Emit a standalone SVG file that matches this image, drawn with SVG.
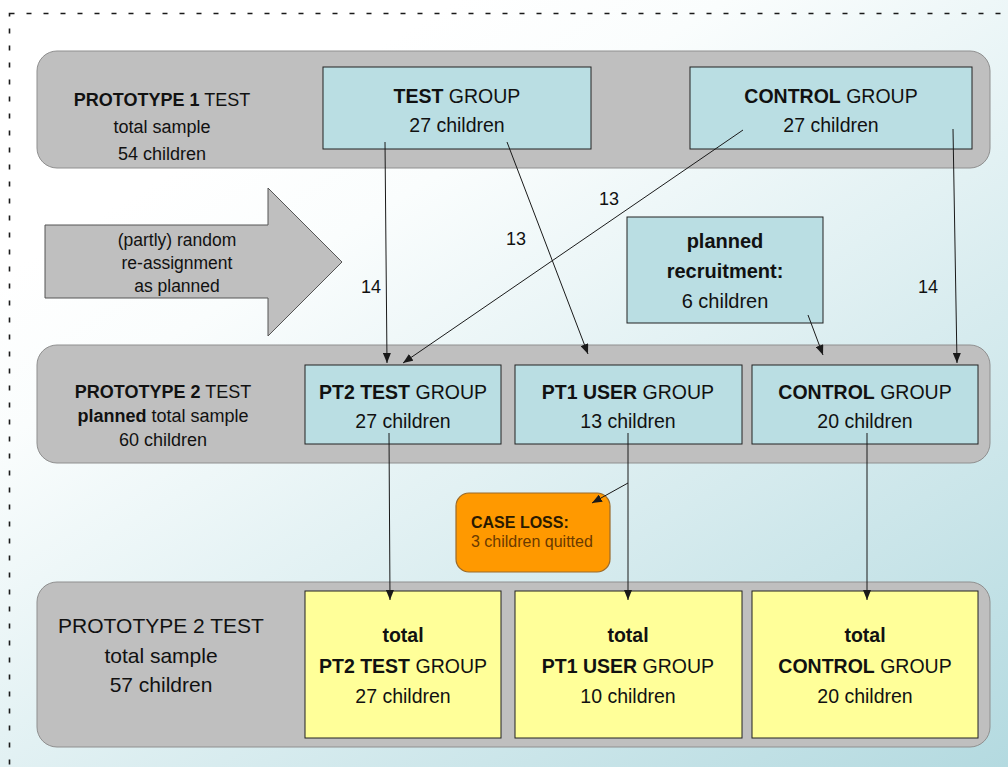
<svg xmlns="http://www.w3.org/2000/svg" width="1008" height="767" viewBox="0 0 1008 767">
<defs>
<linearGradient id="bg" x1="0.3" y1="0.12" x2="1" y2="1">
<stop offset="0" stop-color="#ffffff"/>
<stop offset="0.15" stop-color="#fafdfd"/>
<stop offset="1" stop-color="#b4dae0"/>
</linearGradient>
<marker id="ah" markerUnits="userSpaceOnUse" markerWidth="10" markerHeight="8" refX="10" refY="4" orient="auto">
<path d="M0,0 L10,4 L0,8 z" fill="#1a1a1a"/>
</marker>
</defs>
<style>
text{font-family:"Liberation Sans",Arial,sans-serif;fill:#111;text-anchor:middle}
.b{font-weight:bold}
.band{fill:#bfbfbf;stroke:#8f8f8f;stroke-width:1}
.tb{fill:#badee3;stroke:#222;stroke-width:1}
.yb{fill:#ffff99;stroke:#222;stroke-width:1}
.lt{font-size:18px}
.bx{font-size:19.5px}
.lbl{font-size:18px}
.con line{stroke:#1a1a1a;stroke-width:1;marker-end:url(#ah)}
</style>
<rect x="0" y="0" width="1008" height="767" fill="url(#bg)"/>
<rect x="9.5" y="13.5" width="1060" height="820" fill="none" stroke="#1a1a1a" stroke-width="1.6" stroke-dasharray="5 12"/>

<g id="band1">
<rect class="band" x="37" y="51" width="953" height="117" rx="20"/>
<text class="lt" x="162" y="106"><tspan class="b">PROTOTYPE 1</tspan> TEST</text>
<text class="lt" x="162" y="133">total sample</text>
<text class="lt" x="162" y="160">54 children</text>
</g>
<g id="p1-test">
<rect class="tb" x="323" y="67" width="268" height="82"/>
<text class="bx" x="457" y="103"><tspan class="b">TEST</tspan> GROUP</text>
<text class="bx" x="457" y="132">27 children</text>
</g>
<g id="p1-control">
<rect class="tb" x="690" y="67" width="282" height="82"/>
<text class="bx" x="831" y="103"><tspan class="b">CONTROL</tspan> GROUP</text>
<text class="bx" x="831" y="132">27 children</text>
</g>

<g id="reassign-arrow">
<polygon points="45,225 268,225 268,188 342,262 268,336 268,298 45,298" fill="#bfbfbf" stroke="#555" stroke-width="1"/>
<text x="177" y="246" style="font-size:17.5px">(partly) random</text>
<text x="177" y="269" style="font-size:17.5px">re-assignment</text>
<text x="177" y="292" style="font-size:17.5px">as planned</text>
</g>

<g id="recruitment">
<rect class="tb" x="627" y="217" width="196" height="106" stroke="#333"/>
<text class="b" x="725" y="248" style="font-size:20px">planned</text>
<text class="b" x="725" y="278" style="font-size:20px">recruitment:</text>
<text x="725" y="308" style="font-size:20px">6 children</text>
</g>

<g id="band2">
<rect class="band" x="37" y="345" width="953" height="118" rx="20"/>
<text class="lt" x="163" y="398"><tspan class="b">PROTOTYPE 2</tspan> TEST</text>
<text class="lt" x="163" y="422"><tspan class="b">planned</tspan> total sample</text>
<text class="lt" x="163" y="446">60 children</text>
</g>
<g id="p2-test">
<rect class="tb" x="305" y="365" width="196" height="79"/>
<text class="bx" x="403" y="399"><tspan class="b">PT2 TEST</tspan> GROUP</text>
<text class="bx" x="403" y="428">27 children</text>
</g>
<g id="p2-user">
<rect class="tb" x="515" y="365" width="227" height="79"/>
<text class="bx" x="628" y="399"><tspan class="b">PT1 USER</tspan> GROUP</text>
<text class="bx" x="628" y="428">13 children</text>
</g>
<g id="p2-control">
<rect class="tb" x="752" y="365" width="226" height="79"/>
<text class="bx" x="865" y="399"><tspan class="b">CONTROL</tspan> GROUP</text>
<text class="bx" x="865" y="428">20 children</text>
</g>

<g id="case-loss">
<rect x="456" y="493" width="154" height="79" rx="13" fill="#ff9900" stroke="#9a6a2a" stroke-width="1.2"/>
<text class="b" x="471" y="528" style="font-size:16px;text-anchor:start;fill:#2a1a00">CASE LOSS:</text>
<text x="471" y="547" style="font-size:16px;text-anchor:start;fill:#6a3a00">3 children quitted</text>
</g>

<g id="band3">
<rect class="band" x="37" y="582" width="953" height="165" rx="20"/>
<text x="161" y="633" style="font-size:21px">PROTOTYPE 2 TEST</text>
<text x="161" y="663" style="font-size:21px">total sample</text>
<text x="161" y="692" style="font-size:21px">57 children</text>
</g>
<g id="total-test">
<rect class="yb" x="305" y="591" width="196" height="147"/>
<text class="b bx" x="403" y="642">total</text>
<text class="bx" x="403" y="673"><tspan class="b">PT2 TEST</tspan> GROUP</text>
<text class="bx" x="403" y="703">27 children</text>
</g>
<g id="total-user">
<rect class="yb" x="515" y="591" width="227" height="147"/>
<text class="b bx" x="628" y="642">total</text>
<text class="bx" x="628" y="673"><tspan class="b">PT1 USER</tspan> GROUP</text>
<text class="bx" x="628" y="703">10 children</text>
</g>
<g id="total-control">
<rect class="yb" x="752" y="591" width="226" height="147"/>
<text class="b bx" x="865" y="642">total</text>
<text class="bx" x="865" y="673"><tspan class="b">CONTROL</tspan> GROUP</text>
<text class="bx" x="865" y="703">20 children</text>
</g>

<g id="connectors" class="con">
<line x1="385" y1="142" x2="387" y2="363"/>
<line x1="507" y1="142" x2="588" y2="354"/>
<line x1="743" y1="130" x2="403" y2="363"/>
<line x1="953" y1="129" x2="957" y2="363"/>
<line x1="808" y1="315" x2="823" y2="355"/>
<line x1="389" y1="433" x2="390" y2="600"/>
<line x1="628" y1="433" x2="628" y2="600"/>
<line x1="867" y1="433" x2="867" y2="600"/>
<line x1="628" y1="483" x2="592" y2="503"/>
</g>
<g id="connector-labels">
<text class="lbl" x="371" y="293">14</text>
<text class="lbl" x="516" y="245">13</text>
<text class="lbl" x="609" y="205">13</text>
<text class="lbl" x="928" y="293">14</text>
</g>
</svg>
